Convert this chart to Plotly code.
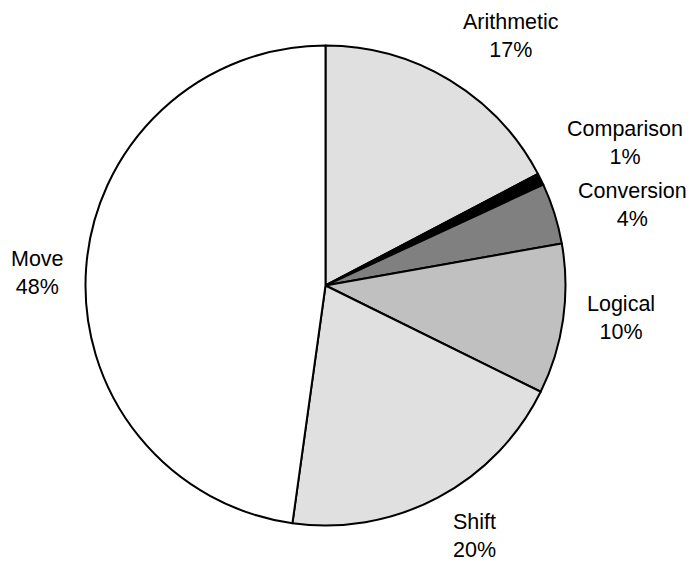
import plotly.graph_objects as go

labels = ["Arithmetic", "Comparison", "Conversion", "Logical", "Shift", "Move"]
values = [17.3, 0.8, 4.1, 10.1, 19.9, 47.8]
colors = ["#e0e0e0", "#000000", "#808080", "#c0c0c0", "#e0e0e0", "#ffffff"]

# label anchor positions in pixels (center x, middle y)
label_pos = [(510.5, 36), (625, 143), (632.5, 205), (621, 318), (474, 536), (37, 273)]

W, H = 690, 563
total = sum(values)

fig = go.Figure(go.Pie(
    labels=labels, values=values, sort=False, direction="clockwise", rotation=0,
    marker=dict(colors=colors, line=dict(color="#000000", width=2)),
    textinfo="none", hoverinfo="label+percent", showlegend=False,
    domain=dict(x=[85.5 / W, 565.5 / W], y=[1 - 525.5 / H, 1 - 45.5 / H]),
))

for lab, v, (px, py) in zip(labels, values, label_pos):
    fig.add_annotation(
        x=px / W, y=1 - py / H, xref="paper", yref="paper",
        text=f"{lab}<br>{round(v / total * 100)}%", showarrow=False,
        xanchor="center", yanchor="middle", align="center",
        font=dict(family="Liberation Sans, Arial, sans-serif", size=21.5, color="#000000"),
    )

fig.update_layout(
    width=W, height=H, margin=dict(l=0, r=0, t=0, b=0),
    paper_bgcolor="white", plot_bgcolor="white",
)
fig.write_html("out.html")
